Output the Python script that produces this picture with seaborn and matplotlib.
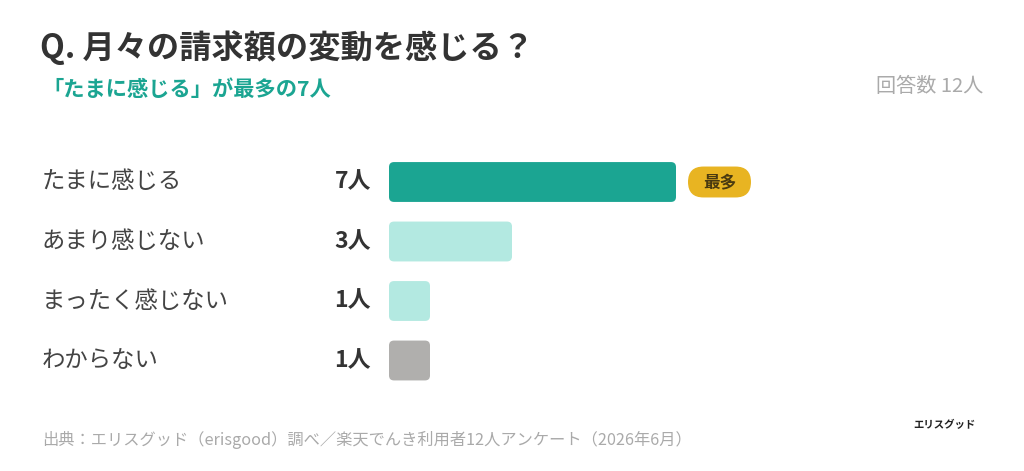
import matplotlib
matplotlib.use("Agg")
import matplotlib.pyplot as plt
import seaborn as sns
import pandas as pd
from matplotlib.patches import FancyBboxPatch

# -------------------------
# Data
# -------------------------
categories = ["たまに感じる", "あまり感じない", "まったく感じない", "わからない"]
counts = [7, 3, 1, 1]
value_labels = ["7人", "3人", "1人", "1人"]
bar_colors = ["#1ba592", "#b3e9e1", "#b3e9e1", "#b0afad"]

title = "Q. 月々の請求額の変動を感じる？"
subtitle = "「たまに感じる」が最多の7人"
total_note = "回答数 12人"
badge = "最多"
source = "出典：エリスグッド（erisgood）調べ／楽天でんき利用者12人アンケート（2026年6月）"
logo = "エリスグッド"

df = pd.DataFrame({"category": categories, "count": counts})

sns.set_theme(style="white")
plt.rcParams["font.family"] = ["Noto Sans CJK JP", "DejaVu Sans"]

W, H = 1024, 471
fig = plt.figure(figsize=(W / 100, H / 100), dpi=100)
fig.patch.set_facecolor("white")

# axes placed so one unit = 41 px, one row = 59.5 px
px_unit = 41.0
row_px = 59.5
left = 389 / W
ax_w = (W - 389) / W
ax_h = 4 * row_px / H
ax_bottom = (H - (152.25 + 4 * row_px)) / H
ax = fig.add_axes([left, ax_bottom, ax_w, ax_h])

sns.barplot(data=df, y="category", x="count", hue="category",
            palette=bar_colors, saturation=1, legend=False, width=0.67, ax=ax)

ax.set_xlim(0, (W - 389) / px_unit)
ax.set_ylim(3.5, -0.5)
ax.axis("off")

# rounded bars
r = 5 / px_unit
aspect = px_unit / row_px
for p in list(ax.patches):
    x0, y0, w, h = p.get_x(), p.get_y(), p.get_width(), p.get_height()
    fc = p.get_facecolor()
    p.remove()
    ax.add_patch(FancyBboxPatch((x0, y0), w, h,
                                boxstyle="round,pad=0,rounding_size=%f" % r,
                                mutation_aspect=aspect, fc=fc, ec="none"))

# category labels and value labels
for i, (cat, lab) in enumerate(zip(categories, value_labels)):
    y_fig = ax_bottom + ax_h - (i + 0.5) * row_px / H
    fig.text(42 / W, y_fig, cat, fontsize=16.8, color="#444444",
             ha="left", va="center")
    fig.text(371 / W, y_fig, lab, fontsize=16.5, color="#333333",
             fontweight="bold", ha="right", va="center")

# badge next to the top bar
top = counts.index(max(counts))
bx = counts[top] + 12 / px_unit
ax.add_patch(FancyBboxPatch((bx, top - 0.26), 63 / px_unit, 0.52,
                            boxstyle="round,pad=0,rounding_size=%f" % (15.5 / px_unit),
                            mutation_aspect=aspect, fc="#e8b422", ec="none"))
ax.text(bx + 31.5 / px_unit, top, badge, fontsize=12, fontweight="bold",
        color="#4a3a10", ha="center", va="center")

# titles
fig.text(40 / W, 1 - 48 / H, title, fontsize=23.2, fontweight="bold",
         color="#333333", ha="left", va="center")
fig.text(42 / W, 1 - 89 / H, subtitle, fontsize=15.3, fontweight="bold",
         color="#1ba592", ha="left", va="center")
fig.text(983 / W, 1 - 87 / H, total_note, fontsize=14.5,
         color="#aaaaaa", ha="right", va="center")

# footer
fig.text(42 / W, 1 - 440 / H, source, fontsize=11.7, color="#aaaaaa",
         ha="left", va="center")
fig.text(976 / W, 1 - 425 / H, logo, fontsize=7.5, fontweight="bold",
         color="#222222", ha="right", va="center")

fig.savefig("out.png", dpi=100, facecolor="white")
